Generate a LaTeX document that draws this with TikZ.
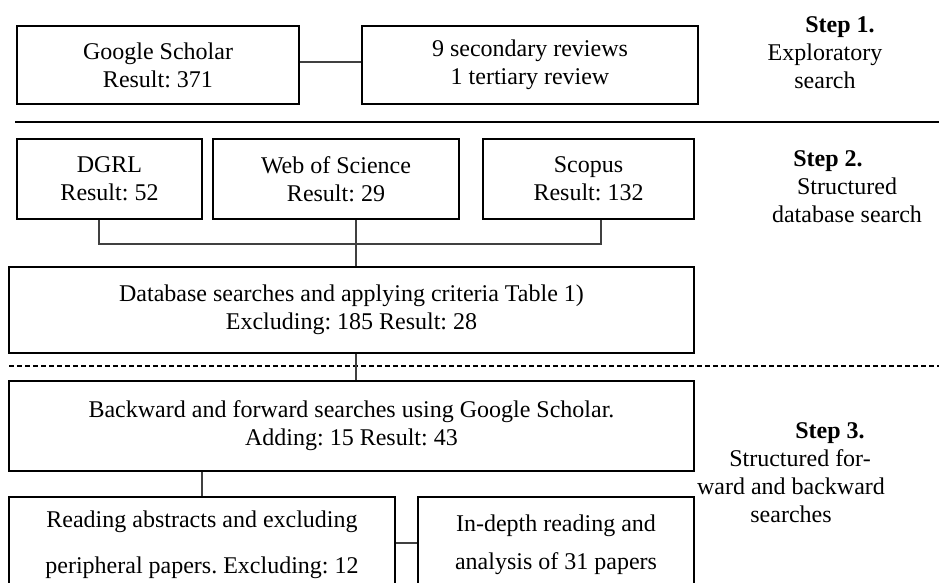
\documentclass[tikz,border=0pt]{standalone}
\usepackage{fontspec}
\setmainfont{Liberation Serif}
\usetikzlibrary{positioning}
\frenchspacing

\tikzset{
    box/.style={draw, line width=1.2pt, inner sep=0pt, align=center, font=\fontsize{12}{14}\selectfont},
    link/.style={draw=black!75, line width=0.6pt},
    steplbl/.style={align=center, font=\fontsize{12}{14}\selectfont},
}

\begin{document}
\begin{tikzpicture}[x=0.5pt, y=-0.5pt]
    \clip (0,0) rectangle (939,583);

    % Step 1: exploratory search
    \node[box, minimum width=141pt, minimum height=39pt] (gs) at (158,65) {Google Scholar\\Result: 371};
    \node[box, minimum width=168pt, minimum height=39pt] (rev) at (530,65) {9 secondary reviews\\1 tertiary review};
    \node[steplbl] (s1) at (825,53) {\hspace*{15pt}\textbf{Step 1.}\\Exploratory\\search};

    % Step 2: database search
    \node[box, minimum width=92.5pt, minimum height=40pt] (dgrl) at (109.5,179) {DGRL\\Result: 52};
    \node[box, minimum width=123pt, minimum height=40pt] (wos) at (336,179) {Web of Science\\Result: 29};
    \node[box, minimum width=105.5pt, minimum height=40pt] (scopus) at (588.5,179) {Scopus\\Result: 132};
    \node[box, minimum width=342.5pt, minimum height=43pt] (db) at (351.5,310) {Database searches and applying criteria Table 1)\\Excluding: 185 Result: 28};
    \node[steplbl] (s2) at (847,187) {\hspace*{-19pt}\textbf{Step 2.}\\Structured\\database search};

    % Step 3: forward and backward searches
    \node[box, minimum width=342.5pt, minimum height=45pt] (bk) at (351.5,426) {Backward and forward searches using Google Scholar.\\Adding: 15 Result: 43};
    \node[box, minimum width=193pt, minimum height=46pt] (rd) at (202,543) {\rule{0pt}{10pt}Reading abstracts and excluding\\[9pt]peripheral papers. Excluding: 12};
    \node[box, minimum width=138pt, minimum height=46pt] (ind) at (556,543) {\rule{0pt}{10pt}In-depth reading and\\[5pt]analysis of 31 papers};
    \node[steplbl] (s3) at (791,473) {\hspace*{39pt}\textbf{Step 3.}\\\hspace*{9pt}Structured for-\\ward and backward\\searches};

    % Separators
    \draw[line width=0.8pt] (15,122) -- (939,122);
    \draw[line width=0.8pt, dash pattern=on 2.5pt off 1.5pt] (9,366) -- (939,366);

    % Connectors
    \draw[link] ([yshift=1.5pt]gs.east) -- ([yshift=1.5pt]rev.west);
    \coordinate (jn) at (356,244);
    \draw[link] ([xshift=-5.25pt]dgrl.south) |- (jn);
    \draw[link] ([xshift=6.25pt]scopus.south) |- (jn);
    \coordinate (wosout) at ([xshift=10pt]wos.south);
    \draw[link] (wosout) -- (wosout |- db.north);
    \coordinate (dbout) at ([xshift=2.25pt]db.south);
    \draw[link] (dbout) -- (dbout |- bk.north);
    \draw[link] (rd.north) -- (rd.north |- bk.south);
    \draw[link] (rd) -- (ind);
\end{tikzpicture}
\end{document}
